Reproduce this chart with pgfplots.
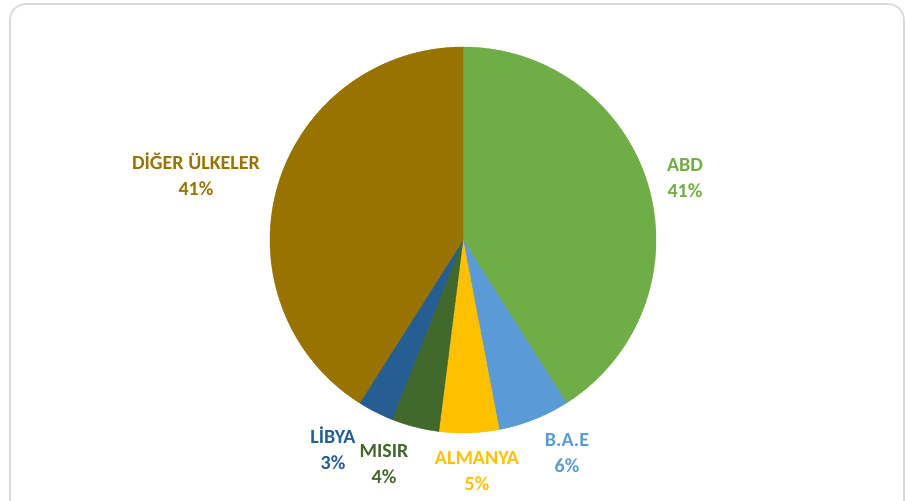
\documentclass[border=0pt]{standalone}
\usepackage{pgfplots}
\usepackage{pgfplotstable}
\pgfplotsset{compat=1.18}
\usepackage{fontspec}
\setmainfont{Carlito}
\definecolor{cABD}{HTML}{70AD47}
\definecolor{cBAE}{HTML}{5B9BD5}
\definecolor{cALM}{HTML}{FFC000}
\definecolor{cMIS}{HTML}{43682B}
\definecolor{cLIB}{HTML}{255E91}
\definecolor{cDIG}{HTML}{997300}
\definecolor{frame}{HTML}{D9D9D9}
\pgfplotstableread{
name v
ABD 41
BAE 6
ALMANYA 5
MISIR 4
LIBYA 3
DIGER 41
}\piedata
\begin{document}
\begin{tikzpicture}
% cumulative angles, clockwise from the top
\xdef\acc{90}
\foreach \i/\n in {0/a,1/b,2/c,3/d,4/e,5/f}{%
  \pgfplotstablegetelem{\i}{v}\of\piedata
  \pgfmathsetmacro\e{\acc-3.6*\pgfplotsretval}%
  \expandafter\xdef\csname ang\n\endcsname{\e}%
  \xdef\acc{\e}%
}
\def\R{96.5pt}
\begin{axis}[
  x=1pt, y=1pt,
  xmin=0, xmax=453, ymin=0, ymax=250.5,
  hide axis,
  clip=false,
]
\path (axis cs:0,0) rectangle (axis cs:453,250.5);
\draw[frame, line width=0.8pt, rounded corners=8pt, overlay]
  (axis cs:5,-20) -- (axis cs:5,248.5) -- (axis cs:452,248.5) -- (axis cs:452,-20);
\filldraw[fill=cABD, draw=cABD, line width=0.2pt] (axis cs:231.5,130.5) -- ++(90:\R) arc[start angle=90, end angle=\anga, radius=\R] -- cycle;
\filldraw[fill=cBAE, draw=cBAE, line width=0.2pt] (axis cs:231.5,130.5) -- ++(\anga:\R) arc[start angle=\anga, end angle=\angb, radius=\R] -- cycle;
\filldraw[fill=cALM, draw=cALM, line width=0.2pt] (axis cs:231.5,130.5) -- ++(\angb:\R) arc[start angle=\angb, end angle=\angc, radius=\R] -- cycle;
\filldraw[fill=cMIS, draw=cMIS, line width=0.2pt] (axis cs:231.5,130.5) -- ++(\angc:\R) arc[start angle=\angc, end angle=\angd, radius=\R] -- cycle;
\filldraw[fill=cLIB, draw=cLIB, line width=0.2pt] (axis cs:231.5,130.5) -- ++(\angd:\R) arc[start angle=\angd, end angle=\ange, radius=\R] -- cycle;
\filldraw[fill=cDIG, draw=cDIG, line width=0.2pt] (axis cs:231.5,130.5) -- ++(\ange:\R) arc[start angle=\ange, end angle=\angf, radius=\R] -- cycle;
\tikzset{lbl/.style={font=\fontsize{10}{13}\selectfont\bfseries, align=center, inner sep=0pt}}
\node[lbl, text=cDIG] at (axis cs:98,163.5) {DİĞER ÜLKELER\\41\%};
\node[lbl, text=cABD] at (axis cs:342.5,161.5) {ABD\\41\%};
\node[lbl, text=cBAE] at (axis cs:283.5,24) {B.A.E\\6\%};
\node[lbl, text=cALM] at (axis cs:238.5,15) {ALMANYA\\5\%};
\node[lbl, text=cMIS] at (axis cs:192,18.5) {MISIR\\4\%};
\node[lbl, text=cLIB] at (axis cs:166.5,26.5) {LİBYA\\3\%};
\end{axis}
\end{tikzpicture}
\end{document}
